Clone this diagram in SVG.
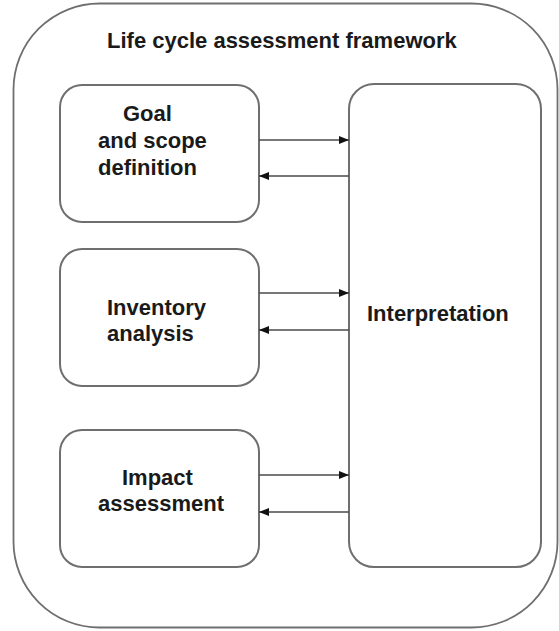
<svg xmlns="http://www.w3.org/2000/svg" width="559" height="631" viewBox="0 0 559 631">
  <style>
    .frame { fill: #ffffff; stroke: #6f6f6f; stroke-width: 1.8; }
    .box { fill: #ffffff; stroke: #6f6f6f; stroke-width: 2; }
    .lbl { font-family: "Liberation Sans", Arial, sans-serif; font-weight: bold; font-size: 22px; fill: #1a1a1a; }
    .link { stroke: #4a4a4a; stroke-width: 1.6; fill: none; marker-end: url(#head); }
  </style>
  <defs>
    <marker id="head" viewBox="0 0 10 8" refX="10" refY="4" markerWidth="10" markerHeight="8" markerUnits="userSpaceOnUse" orient="auto">
      <path d="M0,0 L10,4 L0,8 Z" fill="#111111"/>
    </marker>
  </defs>

  <g id="framework">
    <rect class="frame" x="13.5" y="3.5" width="544" height="624" rx="86" ry="86"/>
    <text class="lbl" x="107" y="48">Life cycle assessment framework</text>
  </g>

  <g id="goal">
    <rect class="box" x="60" y="85" width="199" height="137" rx="22" ry="22"/>
    <text class="lbl" x="123" y="121">Goal</text>
    <text class="lbl" x="98" y="148">and scope</text>
    <text class="lbl" x="98" y="175">definition</text>
  </g>

  <g id="inventory">
    <rect class="box" x="60" y="249" width="199" height="137" rx="22" ry="22"/>
    <text class="lbl" x="107" y="315">Inventory</text>
    <text class="lbl" x="107" y="341">analysis</text>
  </g>

  <g id="impact">
    <rect class="box" x="60" y="430" width="199" height="137" rx="22" ry="22"/>
    <text class="lbl" x="122" y="485">Impact</text>
    <text class="lbl" x="98" y="511">assessment</text>
  </g>

  <g id="interpretation">
    <rect class="box" x="349" y="84" width="192" height="483" rx="25" ry="25"/>
    <text class="lbl" x="367" y="321">Interpretation</text>
  </g>

  <g id="connectors">
    <line class="link" x1="259" y1="140" x2="349" y2="140"/>
    <line class="link" x1="349" y1="176" x2="259" y2="176"/>
    <line class="link" x1="259" y1="293" x2="349" y2="293"/>
    <line class="link" x1="349" y1="330" x2="259" y2="330"/>
    <line class="link" x1="259" y1="475" x2="349" y2="475"/>
    <line class="link" x1="349" y1="512" x2="259" y2="512"/>
  </g>
</svg>
